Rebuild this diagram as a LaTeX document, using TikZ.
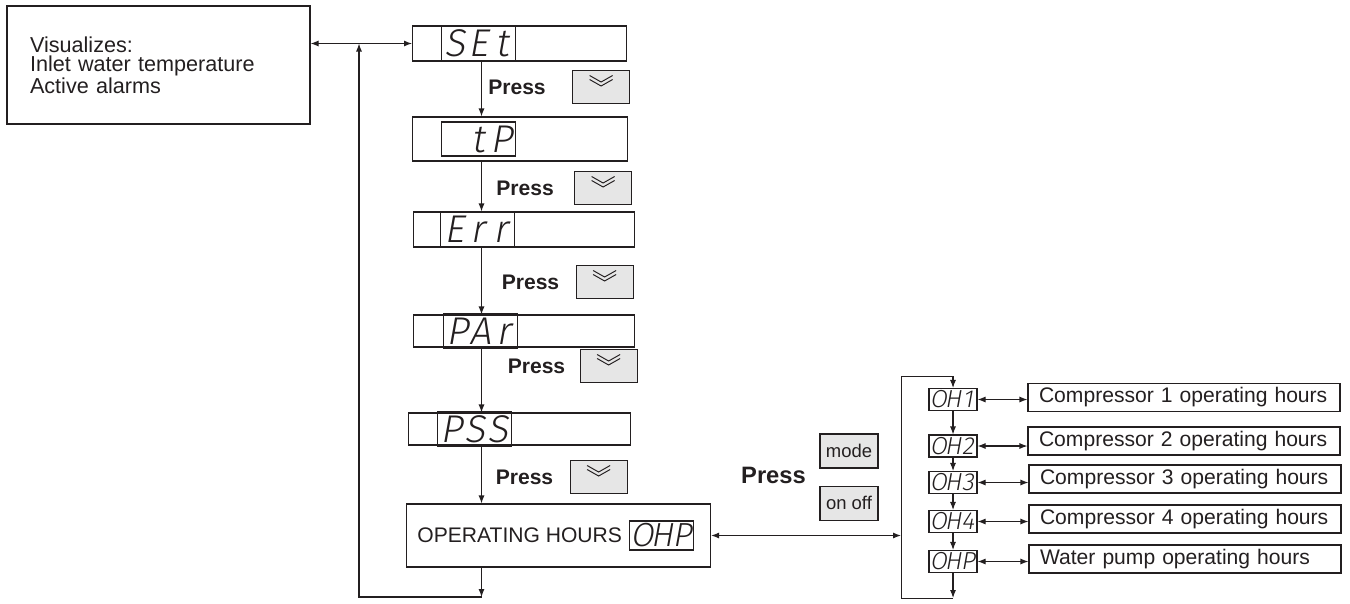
\documentclass[tikz,border=0pt]{standalone}
\usepackage{fontspec}
\setmainfont{Liberation Sans}
\IfFontExistsTF{Fira Sans Light}
  {\newfontfamily\segfont{Fira Sans Light}[FakeSlant=0.18]}
  {\newfontfamily\segfont{Liberation Sans}[FakeSlant=0.18]}
\usetikzlibrary{arrows.meta,positioning,calc}
\definecolor{keygray}{RGB}{230,230,230}
\definecolor{ink}{RGB}{35,31,32}
\newcommand\dg[1]{\makebox[0.6em][c]{#1}}

\begin{document}
\begin{tikzpicture}[
  color=ink,
  info/.style ={rectangle,draw,semithick,minimum width=60.6mm,minimum height=23.6mm,
                text width=51.4mm,inner xsep=4.6mm,align=left,font=\fontsize{12.3}{11}\selectfont},
  scr/.style  ={rectangle,draw,semithick,minimum height=7mm,inner sep=0pt},
  disp/.style ={rectangle,draw,semithick,minimum width=14.8mm,minimum height=7mm,inner sep=0pt,
                font=\segfont\fontsize{22}{22}\selectfont},
  sdisp/.style={rectangle,draw,semithick,minimum width=9.6mm,minimum height=4.4mm,inner sep=0pt,
                font=\segfont\fontsize{14}{14}\selectfont},
  key/.style  ={rectangle,draw,semithick,fill=keygray,minimum width=11.4mm,minimum height=6.6mm,inner sep=0pt,
                path picture={
                  \draw[line width=0.55pt]
                    ($(path picture bounding box.north)+(-0.23,-0.10)$) -- ++(0.23,-0.13) -- ++(0.23,0.13)
                    ($(path picture bounding box.north)+(-0.23,-0.18)$) -- ++(0.23,-0.13) -- ++(0.23,0.13);}},
  mkey/.style ={rectangle,draw,semithick,fill=keygray,minimum width=11.6mm,minimum height=6.8mm,inner sep=0pt,
                font=\fontsize{10.5}{12}\selectfont},
  press/.style={inner sep=0pt,font=\bfseries\fontsize{12}{14}\selectfont},
  lbl/.style  ={rectangle,draw,semithick,text width=58mm,inner xsep=2.2mm,inner ysep=0pt,
                minimum height=5.6mm,align=left,font=\fontsize{12}{14}\selectfont},
  arrow/.style ={-{Latex[length=1.6mm,width=1.2mm]},semithick},
  darrow/.style={{Latex[length=1.6mm,width=1.2mm]}-{Latex[length=1.6mm,width=1.2mm]},semithick},
]
\useasboundingbox (0,0) rectangle (27,-12.06);

\node[info] (vis) at (3.17,-1.30) {Visualizes:\\Inlet water temperature\\Active alarms};

\node[scr,minimum width=42.8mm,anchor=west] (set) at (8.24,-0.87) {};
\node[disp,right=5.8mm of set.west] (setd) {\dg{S}\dg{E}\dg{t}};
\node[scr,minimum width=43.0mm,minimum height=8.8mm,anchor=west] (tp) at (8.24,-2.78) {};
\node[disp,minimum height=6.8mm,right=5.8mm of tp.west] (tpd) {\dg{}\dg{t}\dg{P}};
\node[scr,minimum width=44.2mm,anchor=west] (err) at (8.26,-4.59) {};
\node[disp,right=5.4mm of err.west] (errd) {\dg{E}\dg{r}\dg{r}};
\node[scr,minimum width=44.2mm,minimum height=6.4mm,anchor=west] (par) at (8.26,-6.62) {};
\node[disp,right=6.0mm of par.west] (pard) {\dg{P}\dg{A}\dg{r}};
\node[scr,minimum width=44.4mm,minimum height=6.4mm,anchor=west] (pss) at (8.16,-8.58) {};
\node[disp,minimum height=6.8mm,right=5.8mm of pss.west] (pssd) {\dg{P}\dg{S}\dg{S}};
\node[scr,minimum width=60.8mm,minimum height=12.6mm,anchor=west] (oh) at (8.12,-10.71) {};
\node[anchor=west,inner sep=0pt,font=\fontsize{12}{14}\selectfont] (ohtxt) at ([xshift=2.2mm]oh.west) {OPERATING HOURS};
\node[disp,minimum width=12.8mm,minimum height=5.8mm,font=\segfont\fontsize{19}{19}\selectfont,
      right=1.4mm of ohtxt] (ohd) {\dg{O}\dg{H}\dg{P}};

\node[press] (p1) at (10.34,-1.74) {Press};
\node[key,right=5.2mm of p1] (k1) {};
\node[press] (p2) at (10.50,-3.76) {Press};
\node[key,right=4.0mm of p2] (k2) {};
\node[press] (p3) at (10.61,-5.64) {Press};
\node[key,right=3.2mm of p3] (k3) {};
\node[press] (p4) at (10.73,-7.32) {Press};
\node[key,right=2.8mm of p4] (k4) {};
\node[press] (p5) at (10.49,-9.54) {Press};
\node[key,right=3.2mm of p5] (k5) {};

\coordinate (ax) at (9.63,0);
\coordinate (lb) at (7.18,-11.94);
\draw[darrow] (vis.east |- set.west) -- (set.west);
\draw[arrow] (set.south -| ax) -- (tp.north -| ax);
\draw[arrow] (tp.south -| ax) -- (err.north -| ax);
\draw[arrow] (err.south -| ax) -- (par.north -| ax);
\draw[arrow] (pard.south -| ax) -- (pss.north -| ax);
\draw[arrow] (pss.south -| ax) -- (oh.north -| ax);
\draw[arrow] (oh.south -| ax) -- (ax |- lb);
\draw[arrow] (ax |- lb) -- (lb) -- (lb |- set.west);

\node[press,font=\bfseries\fontsize{13.5}{15}\selectfont] (pm) at (15.47,-9.50) {Press};
\node[mkey] (mode) at (16.98,-9.02) {mode};
\node[mkey,below=3.4mm of mode] (onoff) {on off};

\node[sdisp] (oh1) at (19.06,-7.99) {\dg{O}\dg{H}\dg{1}};
\node[sdisp] (oh2) at (19.06,-8.92) {\dg{O}\dg{H}\dg{2}};
\node[sdisp] (oh3) at (19.06,-9.65) {\dg{O}\dg{H}\dg{3}};
\node[sdisp] (oh4) at (19.06,-10.43) {\dg{O}\dg{H}\dg{4}};
\node[sdisp] (ohp) at (19.06,-11.23) {\dg{O}\dg{H}\dg{P}};

\node[lbl] (c1) at (23.68,-7.95) {Compressor 1 operating hours};
\node[lbl] (c2) at (23.68,-8.82) {Compressor 2 operating hours};
\node[lbl] (c3) at (23.70,-9.58) {Compressor 3 operating hours};
\node[lbl] (c4) at (23.70,-10.38) {Compressor 4 operating hours};
\node[lbl] (c5) at (23.70,-11.18) {Water pump operating hours};

\coordinate (rx) at (18.02,0);
\coordinate (rt) at (19.06,-7.52);
\coordinate (rb) at (19.06,-11.96);
\draw[darrow] (oh.east) -- (oh.east -| rx);
\draw[arrow] (rt) -- (oh1);
\draw[arrow] (oh1) -- (oh2);
\draw[arrow] (oh2) -- (oh3);
\draw[arrow] (oh3) -- (oh4);
\draw[arrow] (oh4) -- (ohp);
\draw[arrow] (ohp) -- (rb);
\draw (rb) -| (rx |- rt) -- (rt);
\draw[darrow] (oh1.east) -- (oh1.east -| c1.west);
\draw[darrow] (oh2.east) -- (oh2.east -| c2.west);
\draw[darrow] (oh3.east) -- (oh3.east -| c3.west);
\draw[darrow] (oh4.east) -- (oh4.east -| c4.west);
\draw[darrow] (ohp.east) -- (ohp.east -| c5.west);
\end{tikzpicture}
\end{document}
